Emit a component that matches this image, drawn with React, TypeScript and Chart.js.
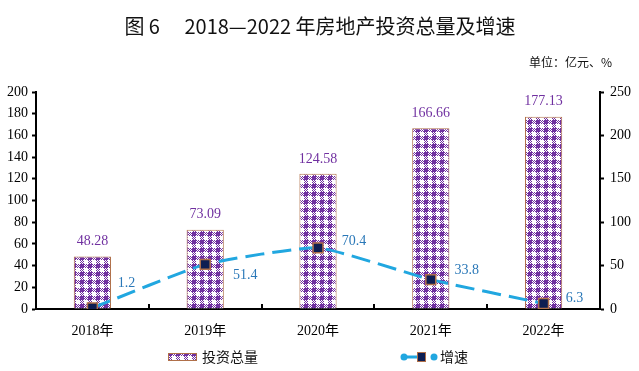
import React, { useEffect, useRef } from "react";
import { Chart, registerables } from "chart.js";

Chart.register(...registerables);

const categories = ["2018年", "2019年", "2020年", "2021年", "2022年"];
const investTotal = [48.28, 73.09, 124.58, 166.66, 177.13];
const growthRate = [1.2, 51.4, 70.4, 33.8, 6.3];
const leftTicks = [0, 20, 40, 60, 80, 100, 120, 140, 160, 180, 200];
const rightTicks = [0, 50, 100, 150, 200, 250];
const titleText = "图 6\u3000 2018—2022 年房地产投资总量及增速";
const unitText = "单位：亿元、%";
const barLegendText = "投资总量";
const lineLegendText = "增速";

const lineLabelOffsets = [
  [34, -25],
  [40, 11],
  [36, -7],
  [36, -9],
  [31, -5],
];

const PURPLE = "#7030A0";
const BROWN = "#B0704A";
const BLUE = "#21A7E0";
const NAVY = "#0E1E52";
const LABEL_BLUE = "#2A78B8";
const SERIF = "'Liberation Serif', 'Times New Roman', 'Noto Sans CJK SC', serif";
const CJK = "'Noto Sans CJK SC', 'Noto Sans', sans-serif";

function makePattern(): CanvasPattern | string {
  const c = document.createElement("canvas");
  c.width = 8;
  c.height = 8;
  const g = c.getContext("2d");
  if (!g) return PURPLE;
  g.fillStyle = "#ffffff";
  g.fillRect(0, 0, 8, 8);
  g.fillStyle = PURPLE;
  g.fillRect(0, 0, 4, 4);
  for (let y = 0; y < 8; y++) {
    for (let x = 0; x < 8; x++) {
      const inTL = x < 4 && y < 4;
      const inBR = x >= 4 && y >= 4;
      if (!inTL && !inBR && (x + y) % 2 === 0) g.fillRect(x, y, 1, 1);
    }
  }
  return g.createPattern(c, "repeat") || PURPLE;
}

export default function App() {
  const ref = useRef<HTMLCanvasElement>(null);

  useEffect(() => {
    document.body.style.margin = "0";
    const canvas = ref.current;
    if (!canvas) return;
    const pattern = makePattern();

    const decor = {
      id: "decor",
      afterDraw(chart: any) {
        const ctx = chart.ctx as CanvasRenderingContext2D;
        const area = chart.chartArea;
        const x = chart.scales.x;
        const yL = chart.scales.y;
        const yR = chart.scales.y1;
        ctx.save();
        // title
        ctx.fillStyle = "#111";
        ctx.font = `20px ${CJK}`;
        ctx.textAlign = "center";
        ctx.textBaseline = "middle";
        ctx.fillText(titleText, 320, 26);
        // unit
        ctx.font = `12px ${CJK}`;
        ctx.textAlign = "right";
        ctx.fillText(unitText, 612, 62);
        // x ticks (inward)
        ctx.strokeStyle = "#000";
        ctx.lineWidth = 2;
        for (let i = 1; i < categories.length; i++) {
          const px = Math.round(x.getPixelForValue(i - 0.5));
          ctx.beginPath();
          ctx.moveTo(px, area.bottom);
          ctx.lineTo(px, area.bottom - 5);
          ctx.stroke();
        }
        // bar labels
        ctx.font = `14px ${SERIF}`;
        ctx.fillStyle = PURPLE;
        ctx.textAlign = "center";
        ctx.textBaseline = "bottom";
        investTotal.forEach((v, i) => {
          ctx.fillText(v.toFixed(2), x.getPixelForValue(i), yL.getPixelForValue(v) - 8);
        });
        // line labels
        ctx.fillStyle = LABEL_BLUE;
        ctx.textBaseline = "middle";
        growthRate.forEach((v, i) => {
          const [dx, dy] = lineLabelOffsets[i];
          ctx.fillText(String(v), x.getPixelForValue(i) + dx, yR.getPixelForValue(v) + dy);
        });
        // legend: bars
        ctx.fillStyle = pattern as any;
        ctx.fillRect(168, 353, 29, 8);
        ctx.strokeStyle = BROWN;
        ctx.lineWidth = 1;
        ctx.strokeRect(168.5, 353.5, 28, 7);
        ctx.fillStyle = "#111";
        ctx.font = `14px ${CJK}`;
        ctx.textAlign = "left";
        ctx.textBaseline = "middle";
        ctx.fillText(barLegendText, 202, 357);
        // legend: line
        ctx.strokeStyle = BLUE;
        ctx.lineWidth = 3;
        ctx.beginPath();
        ctx.moveTo(404, 357);
        ctx.lineTo(418, 357);
        ctx.stroke();
        ctx.fillStyle = BLUE;
        ctx.beginPath();
        ctx.arc(404, 357, 3.5, 0, Math.PI * 2);
        ctx.fill();
        ctx.beginPath();
        ctx.arc(434, 357, 3.5, 0, Math.PI * 2);
        ctx.fill();
        ctx.fillStyle = NAVY;
        ctx.fillRect(417, 352, 9, 10);
        ctx.strokeStyle = BROWN;
        ctx.lineWidth = 1;
        ctx.strokeRect(417.5, 352.5, 8, 9);
        ctx.fillStyle = "#111";
        ctx.fillText(lineLegendText, 440, 357);
        ctx.restore();
      },
    };

    const chart = new Chart(canvas, {
      type: "bar",
      data: {
        labels: categories,
        datasets: [
          {
            type: "line",
            label: lineLegendText,
            data: growthRate,
            yAxisID: "y1",
            borderColor: BLUE,
            borderWidth: 3,
            borderDash: [19, 8],
            pointStyle: "rect",
            pointRadius: 7,
            pointBackgroundColor: NAVY,
            pointBorderColor: BROWN,
            pointBorderWidth: 1.5,
            tension: 0.15,
            order: 0,
          } as any,
          {
            type: "bar",
            label: barLegendText,
            data: investTotal,
            yAxisID: "y",
            backgroundColor: pattern as any,
            borderColor: BROWN,
            borderWidth: 1,
            barPercentage: 0.33,
            categoryPercentage: 1,
            order: 1,
          },
        ],
      },
      options: {
        animation: false,
        responsive: false,
        devicePixelRatio: 1,
        layout: { padding: { top: 92, left: 0, right: 0, bottom: 0 } },
        plugins: {
          legend: { display: false },
          title: { display: false },
          tooltip: { enabled: false },
        },
        scales: {
          x: {
            offset: true,
            grid: { display: false },
            border: { color: "#000", width: 2 },
            ticks: { color: "#000", font: { family: SERIF, size: 14 }, padding: 6 },
            afterFit: (s: any) => {
              s.height = 62;
            },
          },
          y: {
            position: "left",
            min: 0,
            max: 200,
            afterBuildTicks: (s: any) => {
              s.ticks = leftTicks.map((v) => ({ value: v }));
            },
            grid: { drawOnChartArea: false, tickLength: 4, tickWidth: 2, tickColor: "#000" },
            border: { color: "#000", width: 2 },
            ticks: { color: "#000", font: { family: SERIF, size: 14 }, padding: 4 },
            afterFit: (s: any) => {
              s.width = 36;
            },
          },
          y1: {
            position: "right",
            min: 0,
            max: 250,
            afterBuildTicks: (s: any) => {
              s.ticks = rightTicks.map((v) => ({ value: v }));
            },
            grid: { drawOnChartArea: false, tickLength: 4, tickWidth: 2, tickColor: "#000" },
            border: { color: "#000", width: 2 },
            ticks: { color: "#000", font: { family: SERIF, size: 14 }, padding: 6 },
            afterFit: (s: any) => {
              s.width = 39;
            },
          },
        },
      },
      plugins: [decor],
    });
    return () => chart.destroy();
  }, []);

  return (
    <div style={{ width: 639, height: 371, background: "#fff" }}>
      <canvas ref={ref} width={639} height={371} style={{ display: "block" }} />
    </div>
  );
}
